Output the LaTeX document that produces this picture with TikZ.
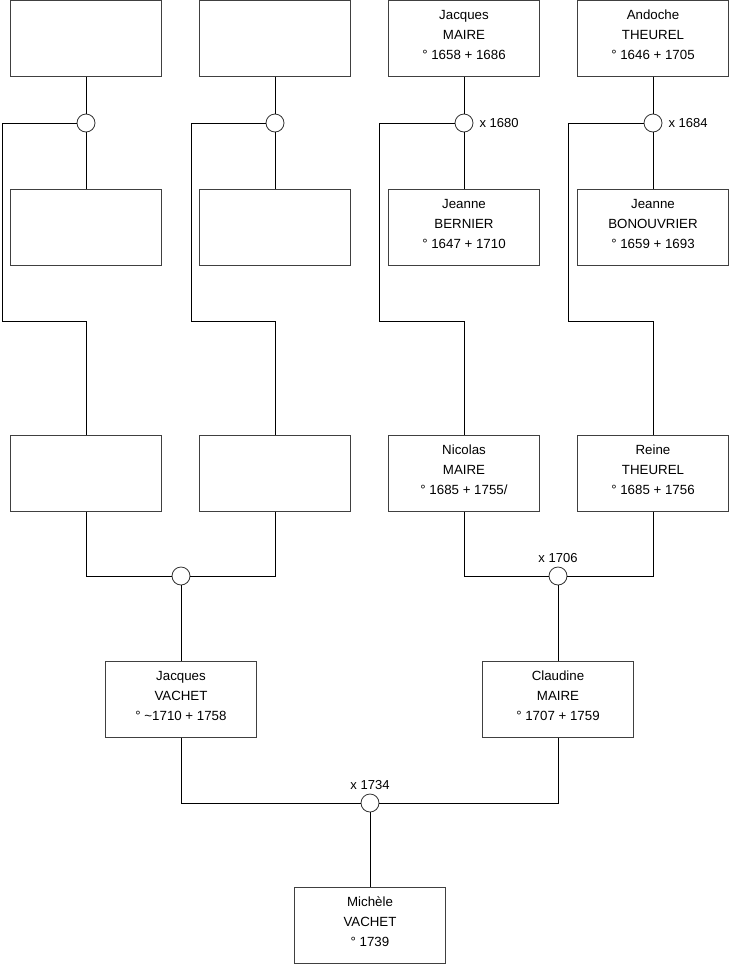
\documentclass[tikz,border=0pt]{standalone}
\usepackage{fontspec}
\setmainfont{Liberation Sans}
\newcommand{\ppl}[3]{\raisebox{2.5pt}[\height][\depth]{\begin{tabular}{@{}c@{}}#1\\#2\\#3\end{tabular}}}
\begin{document}
\begin{tikzpicture}[x=1pt,y=-1pt,
  person/.style={draw=black!75,line width=0.8pt,minimum width=151pt,minimum height=76pt,inner sep=0pt,align=center,font=\fontsize{13.3}{20}\selectfont,anchor=north},
  union/.style={circle,draw=black!80,fill=white,line width=0.8pt,minimum size=18pt,inner sep=0pt},
  link/.style={draw=black,line width=0.8pt},
  lbl/.style={font=\fontsize{13}{15}\selectfont,inner sep=1pt}]
\useasboundingbox (0,0) rectangle (740,975);
% row 1
\node[person] (a1) at (86,0) {};
\node[person] (a2) at (275,0) {};
\node[person] (a3) at (464,0) {\ppl{Jacques}{MAIRE}{° 1658 + 1686}};
\node[person] (a4) at (653,0) {\ppl{Andoche}{THEUREL}{° 1646 + 1705}};
% unions row 1
\node[union] (u1) at (86,123) {};
\node[union] (u2) at (275,123) {};
\node[union] (u3) at (464,123) {};
\node[union] (u4) at (653,123) {};
\node[lbl,anchor=west] at (u3.east) [xshift=5pt] {x 1680};
\node[lbl,anchor=west] at (u4.east) [xshift=5pt] {x 1684};
% row 2
\node[person] (b1) at (86,189) {};
\node[person] (b2) at (275,189) {};
\node[person] (b3) at (464,189) {\ppl{Jeanne}{BERNIER}{° 1647 + 1710}};
\node[person] (b4) at (653,189) {\ppl{Jeanne}{BONOUVRIER}{° 1659 + 1693}};
% row 3
\node[person] (c1) at (86,435) {};
\node[person] (c2) at (275,435) {};
\node[person] (c3) at (464,435) {\ppl{Nicolas}{MAIRE}{° 1685 + 1755/}};
\node[person] (c4) at (653,435) {\ppl{Reine}{THEUREL}{° 1685 + 1756}};
% unions row 3
\node[union] (v1) at (181,576) {};
\node[union] (v2) at (558,576) {};
\node[lbl,anchor=south] at (v2.north) [yshift=3pt] {x 1706};
% row 4
\node[person] (d1) at (181,661) {\ppl{Jacques}{VACHET}{° \textasciitilde1710 + 1758}};
\node[person] (d2) at (558,661) {\ppl{Claudine}{MAIRE}{° 1707 + 1759}};
\node[union] (w) at (370,803) {};
\node[lbl,anchor=south] at (w.north) [yshift=3pt] {x 1734};
\node[person] (e) at (370,887) {\ppl{Michèle}{VACHET}{° 1739}};
% connectors row 1-2
\foreach \i/\lx in {1/2,2/191,3/379,4/568}{
  \draw[link] (a\i.south) -- (u\i.north);
  \draw[link] (u\i.south) -- (b\i.north);
  \draw[link] (u\i.west) -- (\lx,123) -- (\lx,321) -| (c\i.north);
}
% row 3 to unions
\draw[link] (c1.south) |- (v1.west);
\draw[link] (c2.south) |- (v1.east);
\draw[link] (c3.south) |- (v2.west);
\draw[link] (c4.south) |- (v2.east);
\draw[link] (v1.south) -- (d1.north);
\draw[link] (v2.south) -- (d2.north);
\draw[link] (d1.south) |- (w.west);
\draw[link] (d2.south) |- (w.east);
\draw[link] (w.south) -- (e.north);
\end{tikzpicture}
\end{document}
